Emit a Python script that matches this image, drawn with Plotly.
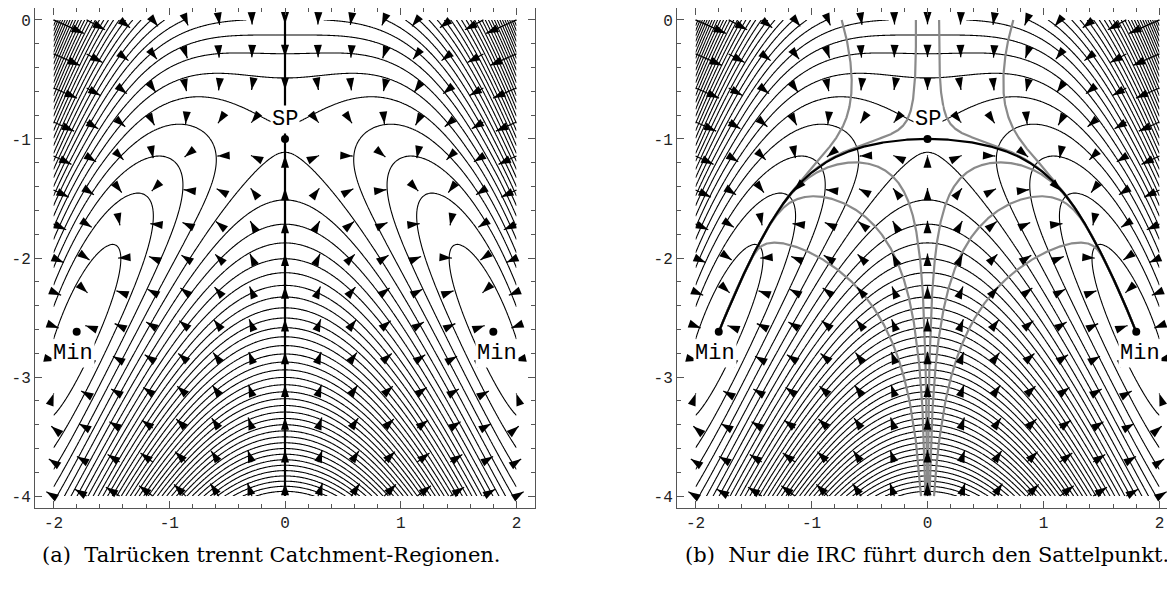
import numpy as np
import plotly.graph_objects as go

# ---------------- values ----------------
X_LIM = [-2.0, 2.0]
Y_LIM = [-4.0, 0.0]
SADDLE = [0.0, -1.0]
MIN_X = [-1.8, 1.8]
MIN_Y = [-2.62, -2.62]
COUPLING_A = 0.287        # x^2 * (y + a)
QUARTIC_C = 0.36          # c * x^4
TOP_P = 0.15              # mild plateau: -p * x^2 * max(0, y - cut)^2
TOP_CUT = -1.2
CORNER_E = 0.012          # e * x^6 * exp(2 y): steeper upper corners
LEVEL_START = -0.9875
LEVEL_STEP = 0.25
LEVEL_END = 14.0
ARROW_COUNT = 15
TOP_SEEDS_X = [-0.74, -0.1, 0.1, 0.74]
BOTTOM_SEEDS_X = [-0.056, -0.017, -0.004, 0.004, 0.017, 0.056]
X_TICKS = [-2, -1, 0, 1, 2]
X_TICK_TEXT = ["-2", "-1", "0", "1", "2"]
Y_TICKS = [0, -1, -2, -3, -4]
Y_TICK_TEXT = ["0", "-1", "-2", "-3", "-4"]
SP_LABEL = ["SP", 0.0, -0.84]
MIN_LABELS = [["Min", -1.83, -2.80], ["Min", 1.83, -2.80]]
CAPTIONS = ["(a)  Talrücken trennt Catchment-Regionen.",
            "(b)  Nur die IRC führt durch den Sattelpunkt."]


def surface(x, y):
    d = np.maximum(0.0, y - TOP_CUT)
    return ((y + 1) ** 2 + x ** 2 * (y + COUPLING_A - TOP_P * d ** 2)
            + QUARTIC_C * x ** 4 + CORNER_E * x ** 6 * np.exp(2 * y))


def gradient(x, y, h=1e-5):
    fx = (surface(x + h, y) - surface(x - h, y)) / (2 * h)
    fy = (surface(x, y + h) - surface(x, y - h)) / (2 * h)
    return fx, fy


def descent_dir(x, y):
    gx, gy = gradient(x, y)
    n = np.hypot(gx, gy) + 1e-15
    return -gx / n, -gy / n


def descend(x0, y0, h=0.003, nmax=6000):
    xs, ys = [x0], [y0]
    x, y = x0, y0
    fprev = surface(x, y)
    for _ in range(nmax):
        k1 = descent_dir(x, y)
        k2 = descent_dir(x + h / 2 * k1[0], y + h / 2 * k1[1])
        k3 = descent_dir(x + h / 2 * k2[0], y + h / 2 * k2[1])
        k4 = descent_dir(x + h * k3[0], y + h * k3[1])
        xn = x + h / 6 * (k1[0] + 2 * k2[0] + 2 * k3[0] + k4[0])
        yn = y + h / 6 * (k1[1] + 2 * k2[1] + 2 * k3[1] + k4[1])
        fn = surface(xn, yn)
        if fn >= fprev or abs(xn) > 2 or yn < -4 or yn > 0:
            break
        x, y, fprev = xn, yn, fn
        xs.append(x)
        ys.append(y)
    return xs, ys


# ---------------- geometry (page body adds an 8px offset) ----------------
W, H = 1167, 582
PX_X = 115.74
PX_Y = 119.0
XR1 = [-2.16, 2.16]
XR2 = [-2.16, -2.16 + 497 / PX_X]
YR = [-4.1, 0.1]

xg = np.linspace(X_LIM[0], X_LIM[1], 401)
yg = np.linspace(Y_LIM[0], Y_LIM[1], 401)
XX, YY = np.meshgrid(xg, yg)
ZZ = surface(XX, YY)

# vector field
ax_ = np.linspace(X_LIM[0], X_LIM[1], ARROW_COUNT)
ay_ = np.linspace(Y_LIM[0], Y_LIM[1], ARROW_COUNT)
AX, AY = np.meshgrid(ax_, ay_)
GX, GY = gradient(AX, AY)
VX, VY = -GX, -GY
mag = np.hypot(VX, VY)
scale = (ax_[1] - ax_[0]) / mag.max()
TX = AX + scale * VX
TY = AY + scale * VY
ANG = np.degrees(np.arctan2(VX * PX_X, VY * PX_Y))

stem_x, stem_y = [], []
for x0, y0, x1, y1 in zip(AX.ravel(), AY.ravel(), TX.ravel(), TY.ravel()):
    stem_x += [x0, x1, None]
    stem_y += [y0, y1, None]

# descent paths
irc = [descend(SADDLE[0] + s * 0.002, SADDLE[1]) for s in (-1, 1)]
gray = [descend(sx, Y_LIM[1]) for sx in TOP_SEEDS_X] + \
       [descend(sx, Y_LIM[0]) for sx in BOTTOM_SEEDS_X]

fig = go.Figure()

for k in (1, 2):
    xa = "x" if k == 1 else "x2"
    ya = "y" if k == 1 else "y2"
    fig.add_trace(go.Contour(
        x=xg, y=yg, z=ZZ, xaxis=xa, yaxis=ya,
        contours=dict(start=LEVEL_START, end=LEVEL_END, size=LEVEL_STEP,
                      coloring="lines"),
        colorscale=[[0, "black"], [1, "black"]], showscale=False,
        line=dict(width=1.1), hoverinfo="skip"))
    if k == 2:
        for px_, py_ in gray:
            fig.add_trace(go.Scatter(x=px_, y=py_, mode="lines", xaxis=xa, yaxis=ya,
                                     line=dict(color="#8a8a8a", width=2.2),
                                     hoverinfo="skip"))
        for px_, py_ in irc:
            fig.add_trace(go.Scatter(x=px_, y=py_, mode="lines", xaxis=xa, yaxis=ya,
                                     line=dict(color="black", width=2.2),
                                     hoverinfo="skip"))
    else:
        fig.add_trace(go.Scatter(x=[SADDLE[0], SADDLE[0]], y=[Y_LIM[1], Y_LIM[0]],
                                 mode="lines", xaxis=xa, yaxis=ya,
                                 line=dict(color="black", width=2.2),
                                 hoverinfo="skip"))
    fig.add_trace(go.Scatter(x=stem_x, y=stem_y, mode="lines", xaxis=xa, yaxis=ya,
                             line=dict(color="black", width=1.2), hoverinfo="skip"))
    fig.add_trace(go.Scatter(x=TX.ravel(), y=TY.ravel(), mode="markers",
                             xaxis=xa, yaxis=ya,
                             marker=dict(symbol="arrow", size=13, angle=ANG.ravel(),
                                         color="black", line=dict(width=0)),
                             hoverinfo="skip"))
    fig.add_trace(go.Scatter(x=[SADDLE[0]] + MIN_X, y=[SADDLE[1]] + MIN_Y,
                             mode="markers", xaxis=xa, yaxis=ya,
                             marker=dict(symbol="circle", size=8, color="black"),
                             hoverinfo="skip"))

annotations = []
for xr, yr in (("x", "y"), ("x2", "y2")):
    for txt, lx, ly in [SP_LABEL] + MIN_LABELS:
        annotations.append(dict(text=txt, x=lx, y=ly, xref=xr, yref=yr,
                                showarrow=False, bgcolor="white", borderpad=1,
                                font=dict(family="Liberation Mono", size=22,
                                          color="black")))
annotations.append(dict(text=CAPTIONS[0], x=32 / W, y=-0.094, xref="paper",
                        yref="paper", xanchor="left", yanchor="middle",
                        showarrow=False,
                        font=dict(family="DejaVu Serif", size=21, color="black")))
annotations.append(dict(text=CAPTIONS[1], x=675 / W, y=-0.094, xref="paper",
                        yref="paper", xanchor="left", yanchor="middle",
                        showarrow=False,
                        font=dict(family="DejaVu Serif", size=21, color="black")))

axis_common = dict(showline=True, linecolor="#555", linewidth=1, mirror="allticks",
                   ticks="inside", ticklen=7, tickcolor="#555", tickwidth=1,
                   minor=dict(ticks="inside", ticklen=4, dtick=0.2, tick0=0,
                              tickcolor="#555"),
                   showgrid=False, zeroline=False,
                   tickfont=dict(family="Liberation Mono", size=16, color="#222"))

fig.update_layout(
    width=W, height=H, margin=dict(l=0, r=0, t=0, b=82),
    paper_bgcolor="white", plot_bgcolor="white", showlegend=False,
    xaxis=dict(domain=[27 / W, 527 / W], range=XR1, anchor="y",
               tickvals=X_TICKS, ticktext=X_TICK_TEXT, **axis_common),
    yaxis=dict(domain=[0, 1], range=YR, anchor="x",
               tickvals=Y_TICKS, ticktext=Y_TICK_TEXT, **axis_common),
    xaxis2=dict(domain=[669 / W, 1.0], range=XR2, anchor="y2",
                tickvals=X_TICKS, ticktext=X_TICK_TEXT, **axis_common),
    yaxis2=dict(domain=[0, 1], range=YR, anchor="x2",
                tickvals=Y_TICKS, ticktext=Y_TICK_TEXT, **axis_common),
    annotations=annotations,
)

fig.write_html("out.html")
